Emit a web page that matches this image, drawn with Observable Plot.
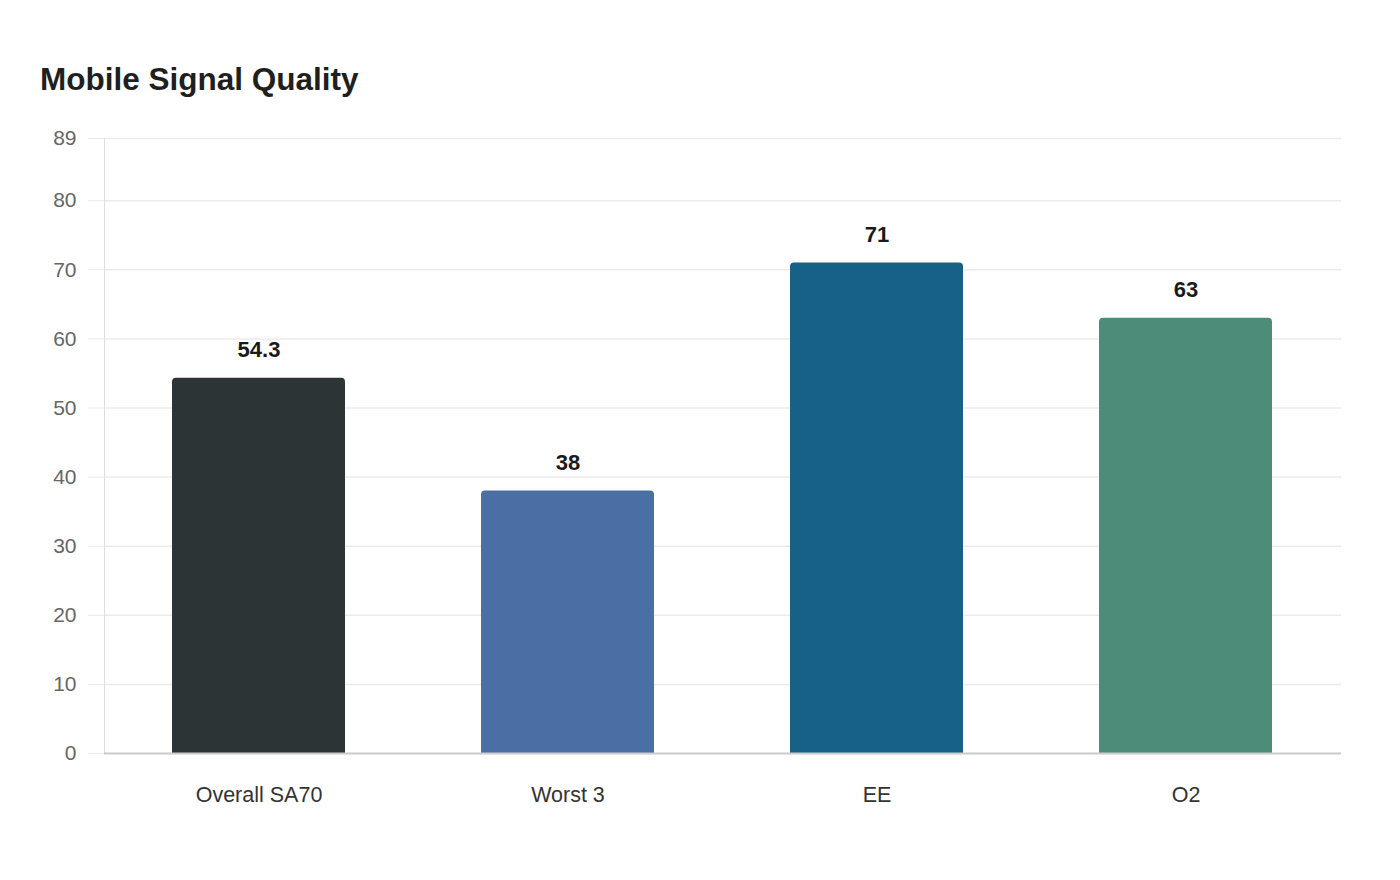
<!DOCTYPE html>
<html>
<head>
<meta charset="utf-8">
<script src="https://cdn.jsdelivr.net/npm/d3@7"></script>
<script src="https://cdn.jsdelivr.net/npm/@observablehq/plot@0.6"></script>
<style>
  html, body { margin: 0; padding: 0; background: #fff; }
  body { width: 1400px; height: 880px; position: relative; font-family: "Liberation Sans", Arial, sans-serif; }
  #title { position: absolute; left: 40px; top: 61px; font-size: 31.5px; line-height: 36px; font-weight: bold; color: #1f1f1f; }
  #chart { position: absolute; left: 0; top: 100px; }
</style>
</head>
<body>
<div id="title">Mobile Signal Quality</div>
<div id="chart"></div>
<script>
const categories = ["Overall SA70", "Worst 3", "EE", "O2"];
const values = [54.3, 38, 71, 63];
const colors = ["#2d3436", "#4a6fa5", "#176087", "#4e8c7a"];
const labels = ["54.3", "38", "71", "63"];
const yTicks = [0, 10, 20, 30, 40, 50, 60, 70, 80, 89];

const data = categories.map((c, i) => ({cat: c, value: values[i], color: colors[i], label: labels[i]}));

const chart = Plot.plot({
  width: 1400,
  height: 760,
  marginLeft: 104,
  marginRight: 59,
  marginTop: 38,
  marginBottom: 107,
  style: { fontFamily: "'Liberation Sans', Arial, sans-serif", background: "transparent" },
  x: { domain: categories, paddingInner: 0.44, paddingOuter: 0.22, label: null },
  y: { domain: [0, 89], label: null },
  marks: [
    Plot.ruleY(yTicks, { stroke: "#ebebeb", strokeWidth: 1.5 }),
    Plot.frame({ anchor: "left", stroke: "#dddddd", strokeWidth: 1 }),
    Plot.axisY({ ticks: yTicks, tickSize: 16, tickPadding: 12, stroke: "#ebebeb", fontSize: 21, fill: "#666", label: null }),
    Plot.barY(data, { x: "cat", y: "value", fill: "color", ry1: 4 }),
    Plot.text(data, { x: "cat", y: "value", text: "label", dy: -28, fontSize: 22, fontWeight: "bold", fill: "#1a1a1a" }),
    Plot.ruleY([0], { stroke: "#cccccc", strokeWidth: 2 }),
    Plot.axisX({ tickSize: 0, tickPadding: 33, fontSize: 21.5, fill: "#333", label: null })
  ]
});

document.getElementById("chart").appendChild(chart);
</script>
</body>
</html>
